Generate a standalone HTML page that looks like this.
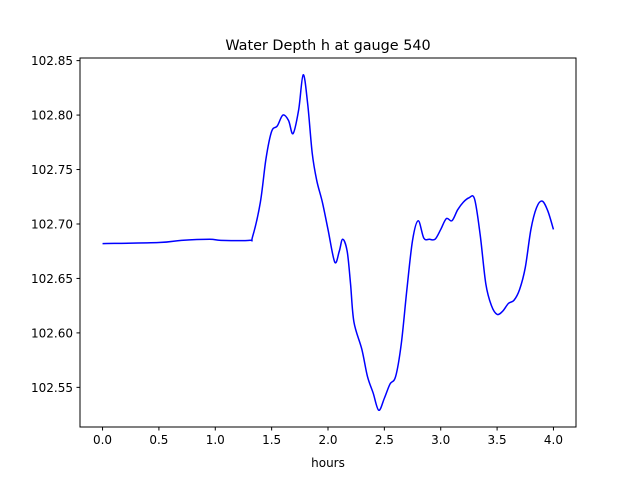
<!DOCTYPE html>
<html><head><meta charset="utf-8"><style>
body{margin:0;background:#fff;}
svg{display:block;font-family:"DejaVu Sans","Liberation Sans",sans-serif;}
</style></head><body>
<svg id="chart" width="640" height="480" viewBox="0 0 640 480">
<rect width="640" height="480" fill="#fff"/>
<text x="328" y="50" text-anchor="middle" font-size="14.4">Water Depth h at gauge 540</text>
<g id="plot"></g>
<rect x="80" y="58" width="496" height="369" fill="none" stroke="#000" stroke-width="1"/>
<text x="328" y="467" text-anchor="middle" font-size="12">hours</text>
</svg>
<script>
const times=[0,0.5,0.7,0.95,1.05,1.3,1.33,1.4,1.45,1.5,1.55,1.6,1.65,1.69,1.74,1.78,1.82,1.86,1.9,1.95,2.0,2.06,2.1,2.13,2.17,2.2,2.23,2.3,2.35,2.4,2.45,2.5,2.55,2.6,2.65,2.7,2.75,2.8,2.85,2.9,2.95,3.0,3.05,3.1,3.15,3.2,3.25,3.3,3.35,3.4,3.45,3.5,3.55,3.6,3.65,3.7,3.75,3.8,3.85,3.9,3.95,4.0];
const depths=[102.682,102.683,102.685,102.686,102.685,102.685,102.688,102.72,102.76,102.785,102.79,102.80,102.795,102.783,102.805,102.837,102.81,102.765,102.74,102.72,102.695,102.665,102.675,102.686,102.675,102.645,102.61,102.585,102.56,102.545,102.529,102.54,102.553,102.56,102.59,102.64,102.685,102.703,102.687,102.686,102.686,102.695,102.705,102.703,102.713,102.72,102.724,102.723,102.69,102.645,102.625,102.617,102.62,102.627,102.63,102.64,102.66,102.695,102.715,102.721,102.712,102.695];
const xTicks=[0,0.5,1,1.5,2,2.5,3,3.5,4];
const xTickLabels=["0.0","0.5","1.0","1.5","2.0","2.5","3.0","3.5","4.0"];
const yTicks=[102.55,102.6,102.65,102.7,102.75,102.8,102.85];
const yTickLabels=["102.55","102.60","102.65","102.70","102.75","102.80","102.85"];
const L=80,R=576,T=58,B=427;
const tmin=Math.min(...times),tmax=Math.max(...times),tp=(tmax-tmin)*0.05;
const vmin=Math.min(...depths),vmax=Math.max(...depths),vp=(vmax-vmin)*0.05;
const xs=t=>L+(t-(tmin-tp))/((tmax-tmin)+2*tp)*(R-L);
const ys=v=>B-(v-(vmin-vp))/((vmax-vmin)+2*vp)*(B-T);
const g=document.getElementById('plot');
const NS="http://www.w3.org/2000/svg";
function mk(tag,attrs){const e=document.createElementNS(NS,tag);for(const k in attrs)e.setAttribute(k,attrs[k]);g.appendChild(e);return e;}
xTicks.forEach((t,i)=>{
 const l=mk('line',{x1:xs(t),x2:xs(t),y1:B,y2:B+3.5,stroke:'#000'});
 
 
 const tx=mk('text',{x:xs(t),y:B+17,'text-anchor':'middle','font-size':'12'});
 tx.textContent=xTickLabels[i];
 
 
});
yTicks.forEach((v,i)=>{
 const l=mk('line',{x1:L-3.5,x2:L,y1:ys(v),y2:ys(v),stroke:'#000'});
 
 
 const tx=mk('text',{x:L-7,y:ys(v)+4.5,'text-anchor':'end','font-size':'12'});
 tx.textContent=yTickLabels[i];
 
 
});
const P=times.map((t,i)=>[xs(t),ys(depths[i])]);
let d='M'+P[0][0]+','+P[0][1];
for(let i=0;i<P.length-1;i++){
 const p0=P[Math.max(i-1,0)],p1=P[i],p2=P[i+1],p3=P[Math.min(i+2,P.length-1)];
 const c1=[p1[0]+(p2[0]-p0[0])/6,p1[1]+(p2[1]-p0[1])/6];
 const c2=[p2[0]-(p3[0]-p1[0])/6,p2[1]-(p3[1]-p1[1])/6];
 d+=' C'+c1[0]+','+c1[1]+' '+c2[0]+','+c2[1]+' '+p2[0]+','+p2[1];
}
const line=mk('path',{d:d,fill:'none',stroke:'#0000ff','stroke-width':'1.5'});


</script>
</body></html>
